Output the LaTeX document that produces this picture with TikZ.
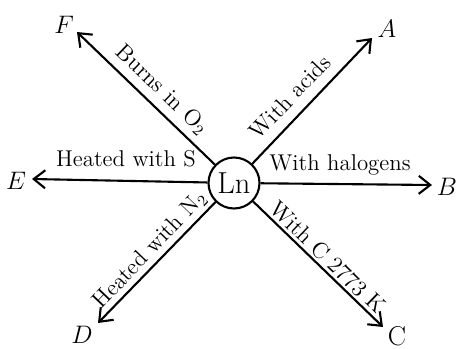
\documentclass[tikz,border=0pt]{standalone}
\usetikzlibrary{arrows.meta}
\tikzset{rxn/.style={-{Straight Barb[length=2.3mm,width=3.6mm]},line width=1.2pt},
         cond/.style={font=\fontsize{13}{15}\selectfont,inner sep=1pt},
         prod/.style={font=\fontsize{15.5}{17}\selectfont,inner sep=1pt}}

\begin{document}
\begin{tikzpicture}[x=0.02cm,y=-0.02cm]
    \useasboundingbox (0,0) rectangle (458,349);
    \node[circle,draw,line width=1.2pt,minimum size=1.02cm,inner sep=0pt,font=\LARGE] (ln) at (234,183) {Ln};
    % arrow ends
    \coordinate (tA) at (372,38);
    \coordinate (tB) at (432,185);
    \coordinate (tC) at (383,327);
    \coordinate (tD) at (98,323);
    \coordinate (tE) at (32,179);
    \coordinate (tF) at (77,32);
    \node[prod] (A) at (387,29) {$A$};
    \node[prod] (B) at (447,187) {$B$};
    \node[prod] (C) at (397,336) {C};
    \node[prod] (D) at (82,335) {$D$};
    \node[prod] (E) at (16,181) {$E$};
    \node[prod] (F) at (64,25) {$F$};
    \foreach \t in {tA,tB,tC,tD,tE,tF} \draw[rxn] (ln) -- (\t);
    \node[cond,rotate=46.5] (acid) at (290,97) {With acids};
    \node[cond] (hal) at (340,165) {With halogens};
    \node[cond,rotate=-44] (carb) at (328,257) {With C 2773 K};
    \node[cond,rotate=46.2] (nitr) at (150,250) {Heated with N$_2$};
    \node[cond] (sulf) at (126,159) {Heated with S};
    \node[cond,rotate=-43.7] (oxy) at (162,90) {Burns in O$_2$};
\end{tikzpicture}
\end{document}
